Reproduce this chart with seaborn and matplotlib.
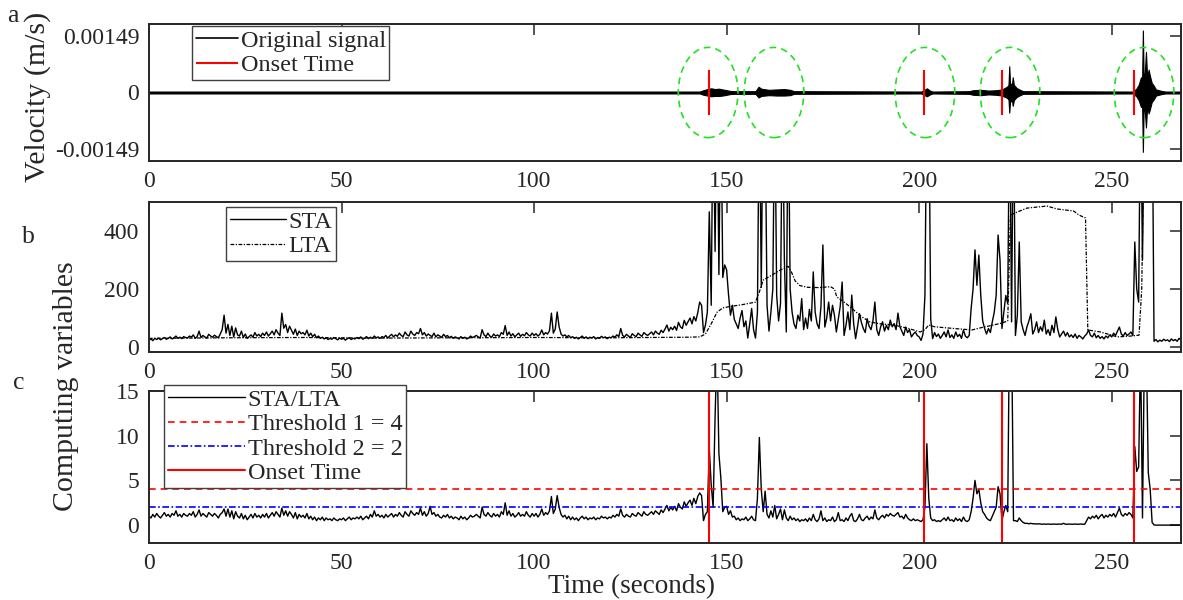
import numpy as np
import pandas as pd
import matplotlib
matplotlib.use("Agg")
import matplotlib.pyplot as plt
from matplotlib.patches import Ellipse
import seaborn as sns

# STA, une ligne = 10 s, pas de 0.5 s
sta_rows = [
    [24, 28, 22, 30, 26, 31, 25, 29, 33, 27, 30, 35, 28, 32, 38, 30, 34, 29, 36, 33],
    [31, 38, 34, 42, 30, 36, 55, 33, 40, 35, 31, 44, 38, 34, 41, 36, 32, 45, 60, 110],
    [48, 78, 40, 72, 35, 66, 42, 38, 55, 33, 45, 30, 36, 42, 34, 50, 38, 44, 36, 48],
    [40, 52, 38, 46, 55, 42, 60, 48, 40, 117, 65, 78, 50, 72, 58, 44, 62, 40, 55, 46],
    [50, 42, 58, 38, 48, 36, 44, 32, 38, 30, 34, 28, 32, 26, 30, 27, 33, 29, 25, 31],
    [27, 30, 24, 29, 32, 26, 30, 28, 33, 29, 35, 27, 31, 36, 29, 34, 30, 38, 32, 35],
    [30, 36, 33, 40, 31, 38, 44, 35, 42, 37, 48, 40, 36, 52, 42, 38, 55, 45, 40, 50],
    [46, 64, 42, 50, 38, 45, 40, 36, 48, 35, 42, 38, 33, 44, 36, 40, 32, 37, 30, 35],
    [32, 28, 36, 30, 34, 28, 31, 38, 33, 36, 40, 35, 31, 60, 42, 36, 48, 38, 34, 45],
    [38, 42, 36, 50, 44, 74, 40, 52, 38, 46, 35, 42, 48, 37, 44, 39, 50, 42, 38, 48],
    [40, 46, 38, 44, 59, 42, 50, 45, 56, 117, 48, 62, 121, 70, 45, 38, 42, 35, 40, 32],
    [36, 30, 34, 28, 33, 38, 30, 35, 29, 34, 31, 36, 28, 33, 30, 37, 32, 35, 29, 34],
    [32, 38, 34, 42, 36, 64, 40, 35, 44, 38, 33, 46, 40, 36, 48, 42, 37, 50, 44, 40],
    [46, 52, 42, 55, 48, 44, 58, 50, 62, 76, 55, 68, 60, 72, 58, 85, 70, 64, 92, 75],
    [88, 100, 80, 105, 90, 118, 155, 144, 50, 76, 120, 466, 144, 900, 330, 900, 250, 900, 240, 283],
    [266, 180, 110, 144, 95, 80, 64, 100, 126, 70, 90, 31, 80, 133, 60, 31, 120, 900, 206, 900],
    [800, 144, 55, 120, 200, 900, 178, 90, 150, 900, 300, 52, 900, 200, 121, 80, 64, 110, 90, 167],
    [60, 100, 64, 130, 90, 259, 120, 80, 64, 140, 352, 69, 100, 155, 90, 144, 110, 52, 95, 140],
    [224, 40, 75, 121, 60, 179, 80, 29, 70, 115, 85, 64, 50, 98, 72, 60, 90, 155, 60, 40],
    [70, 87, 55, 75, 60, 93, 70, 81, 60, 117, 70, 55, 40, 69, 50, 60, 35, 45, 52, 40],
    [35, 23, 45, 178, 900, 900, 98, 29, 50, 36, 45, 30, 40, 52, 35, 59, 33, 42, 30, 52],
    [36, 44, 30, 59, 38, 32, 40, 133, 200, 335, 213, 317, 178, 90, 64, 45, 64, 50, 87, 120],
    [178, 386, 300, 64, 120, 178, 150, 900, 87, 900, 40, 110, 362, 87, 60, 40, 70, 90, 115, 45],
    [60, 87, 50, 70, 55, 93, 45, 60, 40, 75, 50, 104, 60, 35, 45, 55, 38, 50, 35, 42],
    [33, 45, 30, 40, 35, 28, 38, 45, 59, 40, 35, 48, 32, 40, 30, 36, 28, 38, 32, 42],
    [35, 48, 40, 55, 69, 45, 38, 50, 40, 45, 52, 40, 362, 200, 155, 900, 300, 900, 900, 900],
    [900, 900, 20, 26, 18, 24, 20, 27, 22, 25, 19, 28, 22, 26, 20, 30, 24],
]

lta_time = [0, 20, 40, 60, 80, 100, 120, 140, 143, 144.5, 146, 147.5, 149, 151, 154,
            157.5, 158.5, 159.5, 162, 164, 166, 166.8, 167.8, 169, 171, 174, 177, 178,
            178.6, 181, 183, 185, 187.3, 190, 193.4, 197, 200.3, 201.5, 202.5, 204,
            206.4, 210, 213.7, 216.8, 219, 221.5, 223, 223.7, 225.4, 228, 233.2, 235.8,
            240.1, 241.5, 243.2, 243.8, 247.1, 251.5, 255, 257.1, 257.8, 258.5, 268]
lta_value = [30, 32, 33, 31, 32, 33, 32, 34, 35, 45, 80, 120, 135, 140, 146,
             155, 190, 231, 250, 266, 278, 260, 228, 212, 206, 205, 208, 200,
             173, 150, 128, 105, 86, 80, 76, 65, 52, 60, 76, 70,
             67, 63, 59, 69, 75, 83, 90, 455, 465, 479, 486, 476,
             469, 455, 445, 59, 52, 35, 38, 41, 200, 800, 900]

# STA/LTA, une ligne = 10 s, pas de 0.5 s
ratio_rows = [
    [1.0, 0.8, 1.2, 0.9, 1.3, 1.0, 0.8, 1.1, 1.4, 1.0, 1.2, 0.9, 1.3, 1.1, 1.6, 1.0, 1.2, 0.9, 1.3, 1.1],
    [1.0, 1.3, 1.1, 1.5, 0.9, 1.2, 1.7, 1.0, 1.3, 1.1, 0.9, 1.4, 1.2, 1.0, 1.3, 1.1, 0.8, 1.2, 1.4, 1.8],
    [1.0, 1.8, 0.9, 1.6, 0.7, 1.5, 1.0, 0.8, 1.3, 0.7, 1.1, 0.6, 0.9, 1.2, 0.8, 1.3, 0.9, 1.1, 0.8, 1.2],
    [0.9, 1.3, 0.8, 1.1, 1.4, 1.0, 1.5, 1.2, 0.9, 1.9, 1.1, 1.6, 1.0, 1.5, 1.2, 0.8, 1.4, 0.7, 1.2, 0.9],
    [1.1, 0.8, 1.3, 0.7, 1.0, 0.6, 0.9, 0.5, 0.8, 0.6, 0.9, 0.5, 0.8, 0.6, 0.7, 0.5, 0.8, 0.6, 0.5, 0.7],
    [0.6, 0.8, 0.5, 0.7, 0.9, 0.6, 0.8, 0.7, 0.9, 0.7, 1.0, 0.6, 0.8, 1.0, 0.7, 1.2, 0.9, 1.6, 1.0, 1.2],
    [0.9, 1.1, 0.8, 1.2, 0.9, 1.1, 1.3, 0.9, 1.2, 1.0, 1.4, 1.1, 0.9, 1.5, 1.2, 1.0, 1.6, 1.3, 1.1, 1.4],
    [1.2, 1.9, 1.1, 1.5, 1.0, 1.3, 2.1, 1.2, 1.4, 1.0, 1.2, 0.9, 0.8, 1.1, 0.9, 1.2, 0.8, 1.0, 0.7, 0.9],
    [0.8, 0.6, 1.0, 0.7, 0.9, 0.6, 0.8, 1.1, 0.9, 1.0, 1.2, 1.0, 0.8, 2.0, 1.2, 1.0, 1.4, 1.1, 0.9, 1.3],
    [1.0, 1.2, 0.9, 1.5, 1.2, 2.5, 1.1, 1.6, 1.0, 1.3, 0.9, 1.1, 1.4, 1.0, 1.2, 1.0, 1.5, 1.1, 0.9, 1.3],
    [1.0, 1.3, 0.9, 1.2, 1.8, 1.1, 1.4, 1.2, 1.6, 3.2, 1.3, 1.8, 3.3, 2.0, 1.2, 0.9, 1.1, 0.7, 1.0, 0.6],
    [0.9, 0.6, 0.8, 0.5, 0.8, 1.0, 0.7, 0.9, 0.6, 0.8, 0.7, 0.9, 0.6, 0.8, 0.7, 1.0, 0.8, 0.9, 0.7, 0.9],
    [0.8, 1.1, 0.9, 1.2, 1.0, 1.8, 1.1, 0.9, 1.2, 1.0, 0.9, 1.3, 1.1, 1.0, 1.4, 1.2, 1.0, 1.5, 1.2, 1.1],
    [1.3, 1.5, 1.2, 1.6, 1.4, 1.2, 1.7, 1.4, 1.8, 2.2, 1.6, 2.0, 1.7, 2.1, 1.6, 2.4, 2.0, 1.8, 2.6, 2.1],
    [2.5, 2.8, 2.2, 3.0, 2.4, 3.2, 3.6, 3.3, 0.5, 1.2, 1.5, 8.6, 4.5, 2.0, 12, 20, 8.0, 5.3, 1.5, 2.0],
    [2.1, 1.2, 1.6, 0.9, 1.0, 0.6, 0.8, 0.5, 0.7, 0.6, 0.9, 0.5, 0.7, 1.0, 0.6, 0.5, 3.0, 9.8, 4.0, 1.5],
    [3.8, 1.2, 0.8, 1.6, 0.9, 2.2, 0.7, 1.2, 1.8, 0.6, 1.7, 0.8, 0.5, 1.0, 0.6, 0.8, 0.5, 0.7, 0.4, 0.6],
    [0.5, 0.7, 0.4, 0.8, 0.5, 1.2, 0.6, 0.4, 0.7, 1.6, 0.5, 0.8, 0.4, 0.6, 0.5, 0.9, 0.4, 0.6, 1.4, 0.5],
    [0.6, 0.4, 0.8, 0.5, 1.0, 1.3, 0.5, 0.4, 0.7, 1.2, 0.6, 0.5, 0.8, 1.0, 0.6, 0.9, 0.7, 1.7, 0.8, 0.6],
    [0.9, 1.1, 0.8, 1.2, 1.0, 1.3, 1.1, 1.0, 1.2, 1.4, 0.9, 1.0, 0.7, 1.2, 0.8, 0.6, 0.5, 0.7, 0.5, 0.6],
    [0.5, 0.4, 0.6, 2.0, 9.1, 3.0, 0.8, 0.5, 0.6, 0.4, 0.5, 0.4, 0.6, 0.8, 0.5, 0.9, 0.5, 0.6, 0.4, 0.8],
    [0.5, 0.7, 0.4, 0.9, 0.5, 0.4, 0.6, 1.5, 3.0, 5.0, 3.5, 4.0, 2.5, 1.5, 1.2, 0.8, 0.6, 0.5, 1.0, 1.5],
    [2.0, 4.3, 3.5, 0.5, 1.5, 2.2, 1.5, 25, 22, 0.5, 0.5, 0.4, 0.8, 0.5, 0.3, 0.2, 0.2, 0.15, 0.2, 0.15],
    [0.15, 0.12, 0.15, 0.12, 0.1, 0.12, 0.1, 0.12, 0.1, 0.1, 0.12, 0.1, 0.1, 0.12, 0.1, 0.2, 0.1, 0.1, 0.12, 0.1],
    [0.1, 0.12, 0.1, 0.1, 0.12, 0.1, 0.1, 0.5, 0.9, 0.7, 1.0, 0.8, 1.1, 0.7, 1.0, 1.2, 0.8, 1.1, 0.9, 1.2],
    [1.0, 1.3, 0.9, 1.4, 1.9, 1.2, 1.0, 1.3, 1.1, 1.4, 1.2, 0.8, 8.8, 6.0, 6.5, 20, 0.8, 20, 20, 5.9],
    [4.0, 0.3, 0.02, 0.0, 0.0, 0.0, 0.0, 0.0, 0.0, 0.0, 0.0, 0.0, 0.0, 0.0, 0.0, 0.0, 0.0],
]

# enveloppe du signal de vitesse (m/s)
vel_time = [0, 143, 144, 145, 146, 147, 148, 149, 150, 151, 152, 157.5, 158.3, 159, 161, 163,
            165, 166.5, 167.5, 200.5, 201.2, 202, 202.8, 203.5, 213, 214, 216, 218, 220,
            221.5, 222.8, 223.2, 223.4, 223.6, 224.1, 224.3, 224.6, 225.3, 226, 227,
            255.5, 256.4, 257, 257.6, 257.9, 258.1, 258.3, 258.6, 258.9, 259.2, 259.6,
            259.9, 260.4, 260.8, 261.5, 263, 264, 268]
vel_upper = [2.5e-5, 2.5e-5, 6e-5, 9e-5, 1.1e-4, 9e-5, 1e-4, 8e-5, 6e-5, 4e-5, 3.5e-5, 3.5e-5,
             1.5e-4, 1e-4, 7e-5, 8e-5, 9e-5, 7e-5, 3.5e-5, 2.5e-5, 6e-5, 1.1e-4, 5e-5, 2.5e-5,
             3.5e-5, 6e-5, 7e-5, 5e-5, 6e-5, 8e-5, 1.5e-4, 2e-4, 6.9e-4, 2.5e-4, 2e-4, 4e-4,
             2e-4, 1.2e-4, 8e-5, 3.5e-5,
             2.5e-5, 1e-4, 2e-4, 4e-4, 3.5e-4, 1.63e-3, 4e-4, 5e-4, 1.07e-3, 4e-4, 6e-4,
             4.5e-4, 2.5e-4, 2e-4, 8e-5, 4e-5, 2.5e-5, 2.5e-5]
vel_lower = [-2.5e-5, -2.5e-5, -6e-5, -8e-5, -1e-4, -9e-5, -9e-5, -8e-5, -6e-5, -4e-5, -3.5e-5,
             -3.5e-5, -1.3e-4, -9e-5, -7e-5, -8e-5, -8e-5, -7e-5, -3.5e-5, -2.5e-5, -6e-5, -1e-4,
             -5e-5, -2.5e-5, -3.5e-5, -6e-5, -7e-5, -5e-5, -6e-5, -8e-5, -1.4e-4, -1.8e-4,
             -5.3e-4, -2.5e-4, -2e-4, -3.5e-4, -2e-4, -1.2e-4, -8e-5, -3.5e-5,
             -2.5e-5, -1e-4, -2e-4, -3.8e-4, -3.5e-4, -1.56e-3, -4e-4, -5e-4, -9.2e-4, -4e-4,
             -5.5e-4, -4.5e-4, -2.5e-4, -2e-4, -8e-5, -4e-5, -2.5e-5, -2.5e-5]

onset_times = [145.3, 201.3, 221.5, 255.9]
event_centers = [145.2, 162.3, 201.5, 223.6, 258.4]
threshold_1 = 4
threshold_2 = 2


def rows_to_frame(rows, name):
    t, v = [], []
    for i, row in enumerate(rows):
        for j, val in enumerate(row):
            t.append(10 * i + 0.5 * j)
            v.append(val)
    return pd.DataFrame({'Time': t, name: v})


df_sta = rows_to_frame(sta_rows, 'STA')
df_ratio = rows_to_frame(ratio_rows, 'Ratio')
df_lta = pd.DataFrame({'Time': lta_time, 'LTA': lta_value})

sns.set_theme(style='white')
plt.rcParams['font.family'] = ['Liberation Serif', 'DejaVu Serif']

fig = plt.figure(figsize=(11.83, 6), dpi=100)
W, H = 1183, 600
left, right = 149, 1181


def make_ax(top, bottom):
    return fig.add_axes([left / W, 1 - bottom / H, (right - left) / W, (bottom - top) / H])


ax_a = make_ax(24, 161)
ax_b = make_ax(202, 352)
ax_c = make_ax(391, 543)

tick_fs = 17
leg_fs = 17.5
lab_fs = 19.5
ylab_fs = 21.5

for ax in (ax_a, ax_b, ax_c):
    ax.set_xlim(0, 268)
    ax.set_xticks([0, 50, 100, 150, 200, 250])
    ax.tick_params(direction='in', length=8, width=1.1, top=True, right=True,
                   labelsize=tick_fs, pad=7, colors='#262626')
    for s in ax.spines.values():
        s.set_linewidth(1.4)
        s.set_color('#262626')


def style_legend(leg):
    leg.get_frame().set_linewidth(1.0)
    return leg


leg_kw = dict(bbox_transform=fig.transFigure, loc='upper left', fontsize=leg_fs, frameon=True,
              fancybox=False, edgecolor='#404040', framealpha=1, borderpad=0.15,
              labelspacing=0.1, handletextpad=0.1, borderaxespad=0)

# a : signal original
ax_a.fill_between(vel_time, vel_lower, vel_upper, color='black', lw=0.8)
ax_a.plot([], [], color='black', lw=1.2, label='Original signal')
ax_a.vlines(onset_times, -0.0006, 0.0006, color='red', lw=1.5, label='Onset Time')
for c in event_centers:
    ax_a.add_patch(Ellipse((c, 0), 15.5, 0.00237, fill=False, edgecolor='#22e022',
                           lw=1.2, ls=(0, (4, 3))))
ax_a.set_ylim(-0.0018, 0.0018)
ax_a.set_yticks([-0.00149, 0, 0.00149])
ax_a.set_yticklabels(['-0.00149', '0', '0.00149'])
style_legend(ax_a.legend(bbox_to_anchor=(192 / W, 1 - 26 / H), handlelength=1.75, **leg_kw))

# b : STA et LTA
sns.lineplot(data=df_sta, x='Time', y='STA', ax=ax_b, color='black', lw=1.0, label='STA')
sns.lineplot(data=df_lta, x='Time', y='LTA', ax=ax_b, color='black', lw=0.9, label='LTA',
             linestyle=(0, (3, 1.2, 1, 1.2)))
ax_b.set_ylim(-17, 500)
ax_b.set_yticks([0, 200, 400])
ax_b.set_xlabel('')
ax_b.set_ylabel('')
style_legend(ax_b.legend(bbox_to_anchor=(226 / W, 1 - 207 / H), handlelength=2.3, **leg_kw))

# c : STA/LTA
sns.lineplot(data=df_ratio, x='Time', y='Ratio', ax=ax_c, color='black', lw=1.0, label='STA/LTA')
ax_c.axhline(threshold_1, color='red', lw=1.2, ls=(0, (4, 3)), label='Threshold 1 = 4')
ax_c.axhline(threshold_2, color='blue', lw=1.2, ls=(0, (4, 1.5, 1, 1.5)), label='Threshold 2 = 2')
for i, t in enumerate(onset_times):
    ax_c.axvline(t, color='red', lw=1.5, label='Onset Time' if i == 0 else None)
ax_c.set_ylim(-2, 15)
ax_c.set_yticks([0, 5, 10, 15])
ax_c.set_xlabel('')
ax_c.set_ylabel('')
style_legend(ax_c.legend(bbox_to_anchor=(164 / W, 1 - 385 / H), handlelength=3.2, **leg_kw))

# libelles
fig.text(38 / W, 1 - 97 / H, 'Velocity (m/s)', rotation=90, ha='center', va='center',
         fontsize=ylab_fs, color='#262626')
fig.text(66 / W, 1 - 386 / H, 'Computing variables', rotation=90, ha='center', va='center',
         fontsize=ylab_fs, color='#262626')
fig.text(632 / W, 1 - 587 / H, 'Time (seconds)', ha='center', va='center',
         fontsize=lab_fs, color='#262626')
for letter, x, y in [('a', 13, 22), ('b', 28, 243), ('c', 19, 389)]:
    fig.text(x / W, 1 - y / H, letter, ha='center', va='baseline', fontsize=18.5, color='#262626')

fig.savefig('out.png', dpi=100)
